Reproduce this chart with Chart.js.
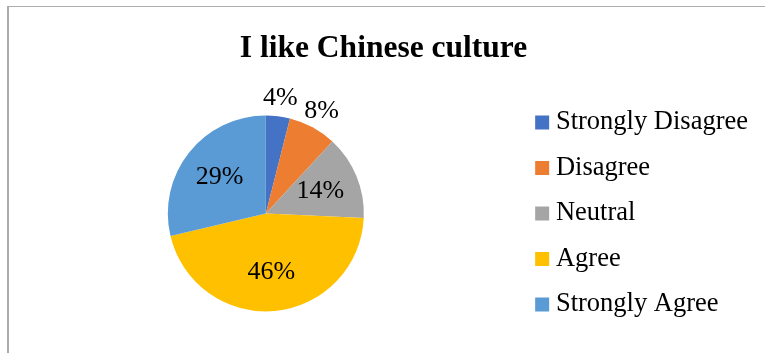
<!DOCTYPE html>
<html>
<head>
<meta charset="utf-8">
<script src="https://cdn.jsdelivr.net/npm/chart.js@4.4.1/dist/chart.umd.min.js"></script>
<style>
  html, body { margin: 0; padding: 0; background: #fff; }
  body { width: 765px; height: 353px; overflow: hidden; position: relative; }
  .frame {
    position: absolute; left: 7px; top: 6px; width: 800px; height: 400px;
    border-left: 2px solid #acacac; border-top: 1px solid #acacac;
  }
  #surveyChart { position: absolute; left: 9px; top: 8px; }
</style>
</head>
<body>
<div class="frame"></div>
<canvas id="surveyChart" width="756" height="345"></canvas>
<script>
const answers = ['Strongly Disagree', 'Disagree', 'Neutral', 'Agree', 'Strongly Agree'];
const shares = [4, 8, 14, 46, 29];
const sliceColors = ['#4472C4', '#ED7D31', '#A5A5A5', '#FFC000', '#5B9BD5'];
const serif = "'Liberation Serif', 'Times New Roman', serif";

// percentage labels; the thin slices get theirs just outside the rim
const sliceLabels = {
    id: 'sliceLabels',
    afterDatasetsDraw(chart) {
        const ctx = chart.ctx;
        const meta = chart.getDatasetMeta(0);
        ctx.save();
        ctx.font = '26px ' + serif;
        ctx.fillStyle = '#000';
        ctx.textAlign = 'center';
        ctx.textBaseline = 'middle';
        meta.data.forEach((arc, i) => {
            const { x, y, startAngle, endAngle, outerRadius } =
                arc.getProps(['x', 'y', 'startAngle', 'endAngle', 'outerRadius'], true);
            const mid = (startAngle + endAngle) / 2;
            const r = outerRadius * (shares[i] < 10 ? 1.19 : 0.6);
            ctx.fillText(shares[i] + '%', x + Math.cos(mid) * r, y + Math.sin(mid) * r);
        });
        ctx.restore();
    }
};

const ctx = document.getElementById('surveyChart').getContext('2d');
new Chart(ctx, {
    type: 'pie',
    data: {
        labels: answers,
        datasets: [{
            data: shares,
            backgroundColor: sliceColors,
            borderWidth: 0,
            radius: 98
        }]
    },
    options: {
        responsive: false,
        devicePixelRatio: 1,
        animation: false,
        layout: { padding: { left: 0, right: 7, top: 0, bottom: 2 } },
        plugins: {
            title: {
                display: true,
                text: 'I like Chinese culture',
                color: '#000',
                font: { family: serif, size: 31.5, weight: 'bold' },
                padding: { top: 22, bottom: 8 }
            },
            legend: {
                position: 'right',
                fullSize: false,
                labels: {
                    usePointStyle: true,
                    pointStyle: 'rect',
                    boxWidth: 1,
                    boxHeight: 14,
                    padding: 19,
                    color: '#000',
                    font: { family: serif, size: 26.5 }
                }
            },
            tooltip: { enabled: false }
        }
    },
    plugins: [sliceLabels]
});
</script>
</body>
</html>
